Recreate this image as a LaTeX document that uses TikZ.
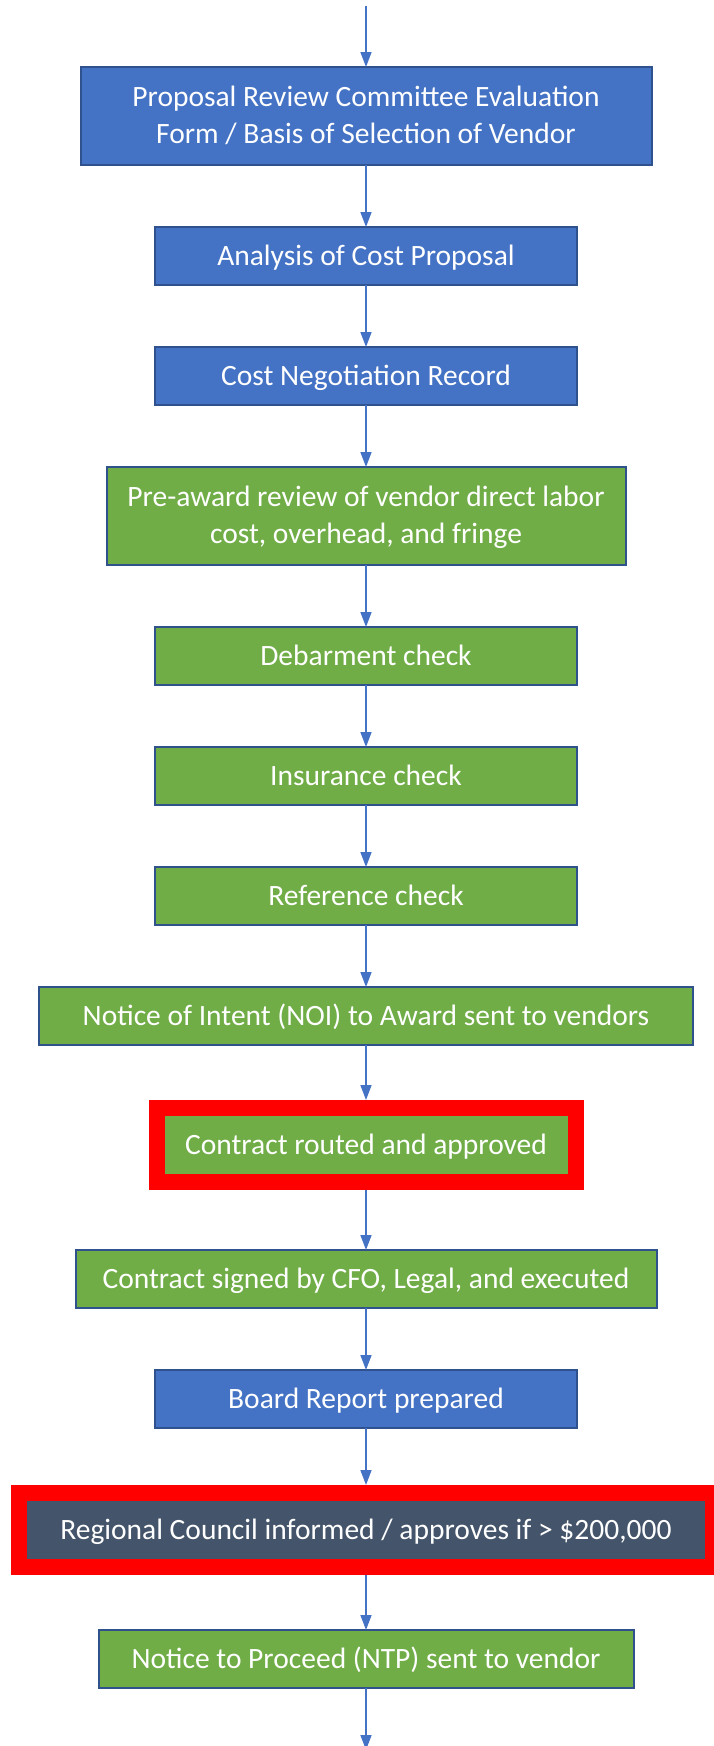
\documentclass[tikz,border=0pt]{standalone}
\usepackage{fontspec}
\setmainfont{Carlito}
\usepackage{tikz}
\usetikzlibrary{arrows.meta, positioning, fit}
\definecolor{prBlue}{HTML}{4472C4}
\definecolor{prEdge}{HTML}{2F528F}
\definecolor{prGreen}{HTML}{70AD47}
\definecolor{prSlate}{HTML}{44546A}
\definecolor{prRed}{HTML}{FF0000}
\tikzset{
  pr-box/.style={
    rectangle, draw=prEdge, line width=2pt, text=white,
    minimum height=58pt, minimum width=422pt, align=center,
    inner sep=4pt, outer sep=0pt, text depth=2pt,
    font=\fontsize{29.5}{37}\selectfont
  },
  pr-blue/.style={pr-box, fill=prBlue},
  pr-green/.style={pr-box, fill=prGreen},
  pr-slate/.style={pr-box, fill=prSlate, draw=none},
  pr-frame/.style={rectangle, draw=prRed, line width=16pt, inner sep=8pt},
  pr-flow/.style={-{Triangle[length=15pt,width=11pt]}, line width=1.5pt, draw=prBlue},
}
\begin{document}
\begin{tikzpicture}[x=1pt, y=1pt, node distance=62pt]
  \useasboundingbox (0,0) rectangle (713,-1746);
  \coordinate (top) at (366,-6);
  \node[pr-blue, minimum width=571pt, minimum height=98pt] (eval) at (366,-116)
       {Proposal Review Committee Evaluation\\Form / Basis of Selection of Vendor};
  \node[pr-blue, below=of eval]                        (cost)  {Analysis of Cost Proposal};
  \node[pr-blue, below=of cost]                        (nego)  {Cost Negotiation Record};
  \node[pr-green, below=of nego, minimum width=519pt,
        minimum height=98pt]                            (pre)   {Pre-award review of vendor direct labor\\cost, overhead, and fringe};
  \node[pr-green, below=of pre]                        (debar) {Debarment check};
  \node[pr-green, below=of debar]                      (ins)   {Insurance check};
  \node[pr-green, below=of ins]                        (ref)   {Reference check};
  \node[pr-green, below=of ref, minimum width=654pt]   (noi)   {Notice of Intent (NOI) to Award sent to vendors};
  \node[pr-green, below=71pt of noi, minimum width=403pt,
        draw=none]                                      (route) {Contract routed and approved};
  \node[pr-frame, fit=(route)]                         (routeframe) {};
  \node[pr-green, below=76pt of route, minimum width=581pt] (sign) {Contract signed by CFO, Legal, and executed};
  \node[pr-blue, below=of sign]                        (board) {Board Report prepared};
  \node[pr-slate, below=73pt of board, minimum width=678pt] (council) {Regional Council informed / approves if > \$200,000};
  \node[pr-frame, fit=(council)]                       (councilframe) {};
  \node[pr-green, below=71pt of council, minimum width=535pt] (ntp) {Notice to Proceed (NTP) sent to vendor};
  \coordinate (bottom) at (366,-1750);

  \draw[pr-flow] (top)   -- (eval);
  \draw[pr-flow] (eval)  -- (cost);
  \draw[pr-flow] (cost)  -- (nego);
  \draw[pr-flow] (nego)  -- (pre);
  \draw[pr-flow] (pre)   -- (debar);
  \draw[pr-flow] (debar) -- (ins);
  \draw[pr-flow] (ins)   -- (ref);
  \draw[pr-flow] (ref)   -- (noi);
  \draw[pr-flow] (noi)   -- (routeframe);
  \draw[pr-flow] (routeframe) -- (sign);
  \draw[pr-flow] (sign)  -- (board);
  \draw[pr-flow] (board) -- (councilframe);
  \draw[pr-flow] (councilframe) -- (ntp);
  \draw[pr-flow] (ntp)   -- (bottom);
\end{tikzpicture}
\end{document}
